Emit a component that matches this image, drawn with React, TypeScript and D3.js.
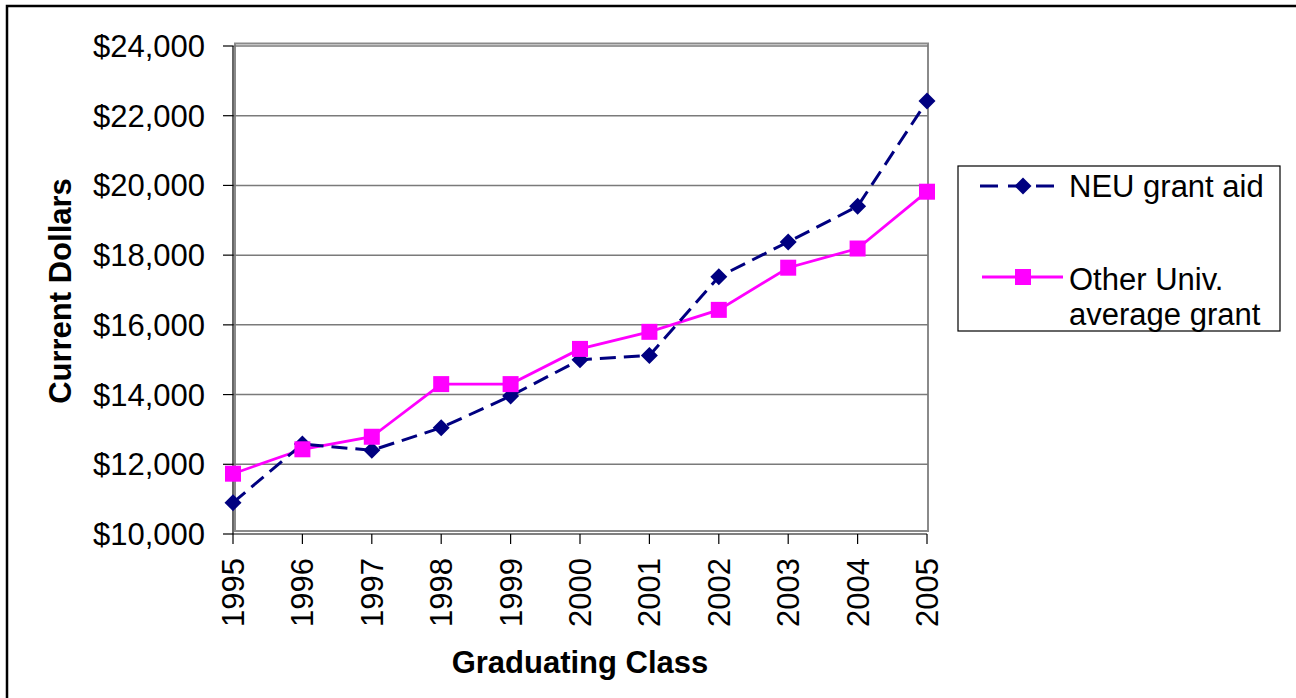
import * as d3 from 'd3';

const years = ['1995', '1996', '1997', '1998', '1999', '2000', '2001', '2002', '2003', '2004', '2005'];
const neuGrant = [10900, 12580, 12400, 13050, 13960, 15000, 15120, 17380, 18380, 19400, 22420];
const otherGrant = [11730, 12430, 12790, 14300, 14300, 15310, 15800, 16430, 17640, 18190, 19820];
const yTicks = [10000, 12000, 14000, 16000, 18000, 20000, 22000, 24000];
const seriesNames = ['NEU grant aid', 'Other Univ.', 'average grant'];

const W = 1296;
const H = 698;
const FONT = '"Liberation Sans", Arial, sans-serif';
const FS = 31;

export default function App() {
  const x = d3.scalePoint<string>().domain(years).range([233, 927]);
  const y = d3.scaleLinear().domain([10000, 24000]).range([534, 46]);
  const money = (v: number) => '$' + d3.format(',')(v);

  const line = d3.line<number>()
    .x((_, i) => x(years[i]) as number)
    .y(d => y(d));

  const diamond = (cx: number, cy: number, r: number) =>
    `M${cx},${cy - r}L${cx + r},${cy}L${cx},${cy + r}L${cx - r},${cy}Z`;

  return (
    <svg width={W} height={H} style={{ position: 'absolute', left: 0, top: 0 }} fontFamily={FONT}>
      <rect x={0} y={0} width={W} height={H} fill="#fff" />
      <rect x={7} y={6} width={1400} height={800} fill="none" stroke="#000" strokeWidth={2.5} />

      {/* plot area frame */}
      <rect x={235} y={43.5} width={693} height={487.5} fill="#fff" stroke="#8a8a8a" strokeWidth={2} />

      {/* gridlines */}
      {yTicks.filter(t => t > 10000).map(t => (
        <line key={t} x1={233} x2={928} y1={y(t)} y2={y(t)} stroke="#7a7a7a" strokeWidth={1.5} />
      ))}

      {/* axes */}
      <line x1={233} x2={233} y1={46} y2={534} stroke="#000" strokeWidth={1.2} />
      <line x1={233} x2={927} y1={534} y2={534} stroke="#000" strokeWidth={1.2} />
      {yTicks.map(t => (
        <g key={t}>
          <line x1={223} x2={233} y1={y(t)} y2={y(t)} stroke="#000" strokeWidth={1.2} />
          <text x={205} y={y(t) + 11} textAnchor="end" fontSize={FS} fill="#000">{money(t)}</text>
        </g>
      ))}
      {years.map(yr => (
        <g key={yr}>
          <line x1={x(yr)} x2={x(yr)} y1={534} y2={544} stroke="#000" strokeWidth={1.2} />
          <text transform={`translate(${(x(yr) as number) + 11},558) rotate(-90)`} textAnchor="end" fontSize={FS} fill="#000">{yr}</text>
        </g>
      ))}

      {/* axis titles */}
      <text transform="translate(71,291) rotate(-90)" textAnchor="middle" fontSize={FS} fontWeight="bold" fill="#000">Current Dollars</text>
      <text x={580} y={673} textAnchor="middle" fontSize={FS} fontWeight="bold" fill="#000">Graduating Class</text>

      {/* series */}
      <path d={line(otherGrant) ?? ''} fill="none" stroke="#ff00ff" strokeWidth={2.8} />
      <path d={line(neuGrant) ?? ''} fill="none" stroke="#000080" strokeWidth={3} strokeDasharray="16,8" />
      {neuGrant.map((v, i) => (
        <path key={'n' + i} d={diamond(x(years[i]) as number, y(v), 8.5)} fill="#000080" />
      ))}
      {otherGrant.map((v, i) => (
        <rect key={'o' + i} x={(x(years[i]) as number) - 8} y={y(v) - 8} width={16} height={16} fill="#ff00ff" />
      ))}

      {/* legend */}
      <rect x={958} y={166} width={322} height={165} fill="#fff" stroke="#000" strokeWidth={1.2} />
      <line x1={980} x2={1055} y1={186} y2={186} stroke="#000080" strokeWidth={3} strokeDasharray="18,10" />
      <path d={diamond(1023, 186, 8.5)} fill="#000080" />
      <text x={1069} y={197} fontSize={FS} fill="#000">{seriesNames[0]}</text>
      <line x1={982} x2={1063} y1={277} y2={277} stroke="#ff00ff" strokeWidth={2.8} />
      <rect x={1015} y={269} width={16} height={16} fill="#ff00ff" />
      <text x={1069} y={290} fontSize={FS} fill="#000">{seriesNames[1]}</text>
      <text x={1069} y={325} fontSize={FS} fill="#000">{seriesNames[2]}</text>
    </svg>
  );
}
